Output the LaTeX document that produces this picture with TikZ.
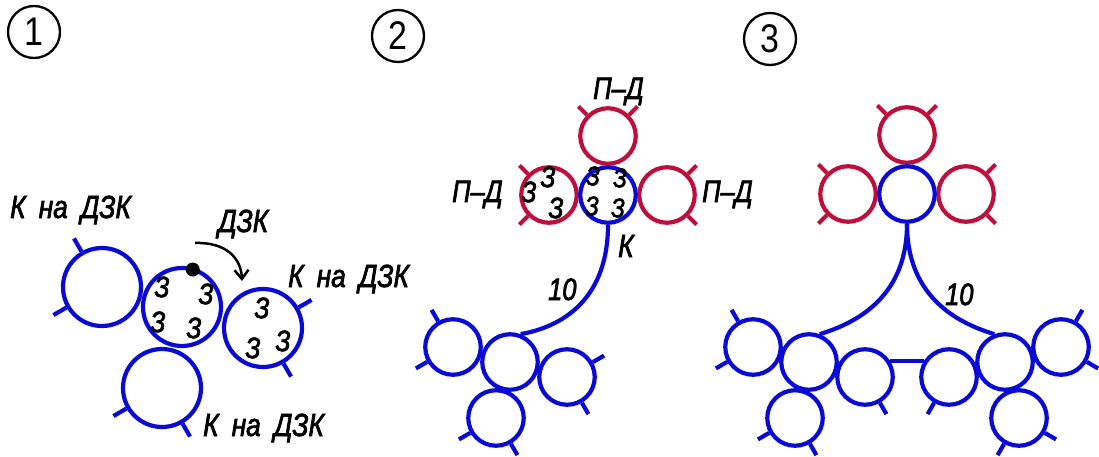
\documentclass[tikz,border=0pt]{standalone}
\usepackage{fontspec}
\setmainfont{Liberation Sans}
\newfontfamily\gost[FakeStretch=0.82,WordSpace=1.8,FakeBold=2.2]{Liberation Sans}
\newfontfamily\numfont[FakeStretch=0.85]{Liberation Sans}
\usetikzlibrary{arrows.meta,calc}
\definecolor{myblue}{RGB}{10,10,215}
\definecolor{myred}{RGB}{190,15,60}
\begin{document}
\begin{tikzpicture}[x=1pt,y=1pt,
  bc/.style={circle,draw=myblue,line width=4.2pt,inner sep=0pt,minimum size=55.5pt},
  rc/.style={bc,draw=myred},
  bigc/.style={bc,minimum size=78pt},
  bl/.style={draw=myblue,line width=4.2pt},
  rl/.style={draw=myred,line width=4.2pt},
  lbl/.style={inner sep=0pt,anchor=base west,font=\gost\itshape\fontsize{32}{32}\selectfont},
  pd/.style={inner sep=0pt,anchor=base west,font=\gost\itshape\fontsize{31}{31}\selectfont},
  zz/.style={inner sep=0pt,font=\gost\itshape\fontsize{29.5}{29.5}\selectfont},
  zs/.style={inner sep=0pt,font=\gost\itshape\fontsize{27}{27}\selectfont},
  num/.style={circle,draw=black,line width=2.3pt,minimum size=52pt,inner sep=0pt,font=\numfont\fontsize{40}{40}\selectfont}
]
\useasboundingbox (0,0) rectangle (1099,-457);

% circled numbers
\node[num] (n1) at (34,-32) {1};
\node[num] (n2) at (398,-36) {2};
\node[num] (n3) at (770,-39) {3};

% ---------- diagram 1 ----------
\node[bigc] (A) at (102,-287) {};
\node[bigc] (B) at (182,-307) {};
\node[bigc] (C) at (263,-328) {};
\node[bigc] (D) at (162,-388) {};
\foreach \a in {120,210} \draw[bl] (A.\a) -- ++(\a:15);
\foreach \a in {30,-60} \draw[bl] (C.\a) -- ++(\a:15);
\foreach \a in {210,-60} \draw[bl] (D.\a) -- ++(\a:15);
\node[circle,fill=black,inner sep=0pt,minimum size=14pt] (dot) at ($(B.center)+(74:39)$) {};
\coordinate (as) at (195,-243);
\coordinate (ae) at (242,-281);
\draw[line width=2.5pt,-{Straight Barb[length=9pt,width=14pt]}] (as) .. controls (226,-242) and (241,-258) .. (ae);
\node[lbl] (t1) at (10,-218) {К на ДЗК};
\node[lbl] (t2) at (218,-232) {ДЗК};
\node[lbl] (t3) at (288,-287) {К на ДЗК};
\node[lbl] (t4) at (203,-436) {К на ДЗК};
\node[zz] (b1) at (162,-287) {З};
\node[zz] (b2) at (206,-294) {З};
\node[zz] (b3) at (158,-322) {З};
\node[zz] (b4) at (194,-328) {З};
\node[zz] (c1) at (262,-308) {З};
\node[zz] (c2) at (253,-348) {З};
\node[zz] (c3) at (283,-341) {З};

% ---------- diagram 2 ----------
\node[rc] (T2) at (608,-136) {};
\node[rc] (Lr2) at (549,-195) {};
\node[rc] (Rr2) at (667,-195) {};
\foreach \a in {45,135} \draw[rl] (T2.\a) -- ++(\a:12);
\foreach \a in {135,225} \draw[rl] (Lr2.\a) -- ++(\a:12);
\foreach \a in {45,-45} \draw[rl] (Rr2.\a) -- ++(\a:12);
\node[bc] (P2) at (608,-195) {};
\node[bc] (C1) at (453,-347) {};
\node[bc] (C2) at (510,-362) {};
\node[bc] (C3) at (567,-377) {};
\node[bc] (C4) at (496,-418) {};
\foreach \a in {120,210} \draw[bl] (C1.\a) -- ++(\a:13);
\foreach \a in {30,-60} \draw[bl] (C3.\a) -- ++(\a:13);
\foreach \a in {210,-60} \draw[bl] (C4.\a) -- ++(\a:13);
\draw[bl] (P2.south) .. controls +(0,-67) and +(50,9) .. (C2.69);
\node[pd] (pd1) at (593,-99) {П–Д};
\node[pd] (pd2) at (452,-202) {П–Д};
\node[pd] (pd3) at (702,-202) {П–Д};
\node[lbl] (k2) at (618,-257) {К};
\node[pd] (ten2) at (548,-300) {10};
\node[zz] (l1) at (529,-192) {З};
\node[zz] (l2) at (548,-177) {З};
\node[zz] (l3) at (556,-208) {З};
\node[zs] (p1) at (593,-176) {З};
\node[zs] (p2) at (620,-178) {З};
\node[zs] (p3) at (592,-206) {З};
\node[zs] (p4) at (618,-208) {З};

% ---------- diagram 3 ----------
\node[rc] (T3) at (907,-135) {};
\node[rc] (Lr3) at (848,-194) {};
\node[rc] (Rr3) at (966,-194) {};
\foreach \a in {45,135} \draw[rl] (T3.\a) -- ++(\a:12);
\foreach \a in {135,225} \draw[rl] (Lr3.\a) -- ++(\a:12);
\foreach \a in {45,-45} \draw[rl] (Rr3.\a) -- ++(\a:12);
\node[bc] (Q3) at (907,-194) {};
\node[bc] (L1) at (753,-347) {};
\node[bc] (L2) at (809,-362) {};
\node[bc] (L3) at (865,-377) {};
\node[bc] (L4) at (795,-418) {};
\node[bc] (R1) at (1061,-347) {};
\node[bc] (R2) at (1005,-362) {};
\node[bc] (R3) at (949,-377) {};
\node[bc] (R4) at (1019,-418) {};
\foreach \a in {120,210} \draw[bl] (L1.\a) -- ++(\a:13);
\draw[bl] (L3.-60) -- ++(-60:13);
\foreach \a in {210,-60} \draw[bl] (L4.\a) -- ++(\a:13);
\foreach \a in {60,-30} \draw[bl] (R1.\a) -- ++(\a:13);
\draw[bl] (R3.240) -- ++(240:13);
\foreach \a in {-30,240} \draw[bl] (R4.\a) -- ++(\a:13);
\draw[bl] (Q3.south) .. controls +(0,-63) and +(50,15) .. (L2.69);
\draw[bl] (Q3.south) .. controls +(0,-63) and +(-50,15) .. (R2.111);
\draw[bl] (L3.32) -- (R3.148);
\node[pd] (ten3) at (945,-305) {10};
\end{tikzpicture}
\end{document}
